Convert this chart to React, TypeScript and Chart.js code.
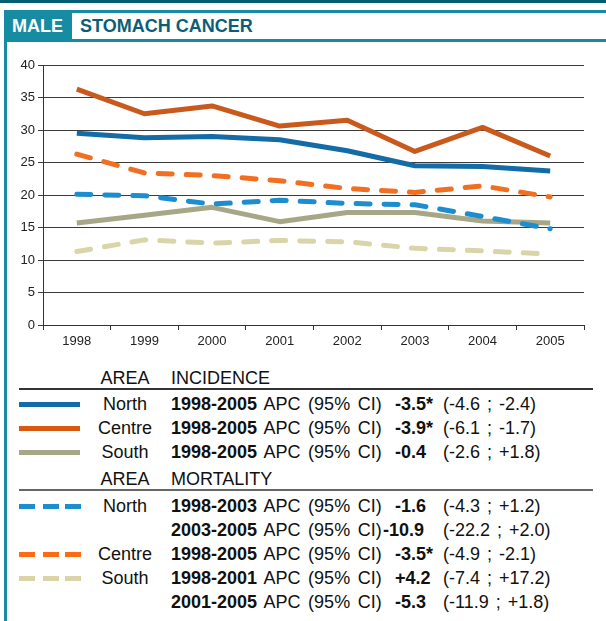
import React, { useEffect, useRef } from "react";
import { Chart, registerables } from "chart.js";

Chart.register(...registerables);

const years = ["1998", "1999", "2000", "2001", "2002", "2003", "2004", "2005"];
const northIncidence = [29.5, 28.8, 29.0, 28.5, 26.8, 24.5, 24.4, 23.7];
const centreIncidence = [36.3, 32.5, 33.7, 30.6, 31.5, 26.7, 30.4, 26.0];
const southIncidence = [15.7, 16.9, 18.1, 15.9, 17.3, 17.3, 16.0, 15.7];
const northMortality = [20.1, 19.9, 18.6, 19.2, 18.7, 18.5, 16.7, 14.8];
const centreMortality = [26.3, 23.4, 23.0, 22.2, 21.0, 20.4, 21.4, 19.7];
const southMortality = [11.3, 13.1, 12.6, 13.0, 12.8, 11.8, 11.4, 10.9];

const yMin = 0;
const yMax = 40;
const yStep = 5;

const COLORS = {
  northInc: "#136ca6",
  centreInc: "#c95a1d",
  southInc: "#a7a787",
  northMort: "#1c8dcf",
  centreMort: "#f26f22",
  southMort: "#d9d5a9",
};

const incidenceRows = [
  { area: "North", color: COLORS.northInc, period: "1998-2005", value: "-3.5*", ci: "(-4.6 ; -2.4)" },
  { area: "Centre", color: "#d85a12", period: "1998-2005", value: "-3.9*", ci: "(-6.1 ; -1.7)" },
  { area: "South", color: COLORS.southInc, period: "1998-2005", value: "-0.4", ci: "(-2.6 ; +1.8)" },
];

const mortalityRows = [
  { area: "North", color: COLORS.northMort, period: "1998-2003", value: "-1.6", ci: "(-4.3 ; +1.2)" },
  { area: "", color: "", period: "2003-2005", value: "-10.9", ci: "(-22.2 ; +2.0)" },
  { area: "Centre", color: "#ff6a14", period: "1998-2005", value: "-3.5*", ci: "(-4.9 ; -2.1)" },
  { area: "South", color: COLORS.southMort, period: "1998-2001", value: "+4.2", ci: "(-7.4 ; +17.2)" },
  { area: "", color: "", period: "2001-2005", value: "-5.3", ci: "(-11.9 ; +1.8)" },
];

const FONT = '"Liberation Sans", Arial, Helvetica, sans-serif';
const TEAL = "#168ca2";

function LegendRow({ row, top, dashed }: { row: any; top: number; dashed: boolean }) {
  const swatch = row.color ? (
    dashed ? (
      <div style={{ position: "absolute", left: 19, top: top + 10, width: 62, height: 5 }}>
        {[0, 24, 46].map((x) => (
          <div key={x} style={{ position: "absolute", left: x, top: 0, width: 16, height: 5, background: row.color }} />
        ))}
      </div>
    ) : (
      <div style={{ position: "absolute", left: 19, top: top + 10, width: 61, height: 5, background: row.color }} />
    )
  ) : null;
  const long = row.value.length > 4 && !row.value.endsWith("*");
  return (
    <>
      {swatch}
      <div style={{ position: "absolute", left: 85, top, width: 80, textAlign: "center" }}>{row.area}</div>
      <div style={{ position: "absolute", left: 171, top, whiteSpace: "nowrap", wordSpacing: "2.5px" }}>
        <b>{row.period}</b> APC (95% CI)
      </div>
      <div style={{ position: "absolute", left: long ? 383 : 395, top, fontWeight: "bold", whiteSpace: "nowrap" }}>
        {row.value}
      </div>
      <div style={{ position: "absolute", left: 443, top, whiteSpace: "nowrap", wordSpacing: "2px" }}>{row.ci}</div>
    </>
  );
}

export default function App() {
  const canvasRef = useRef<HTMLCanvasElement | null>(null);

  useEffect(() => {
    if (!canvasRef.current) return;
    const mk = (data: number[], color: string, dashed: boolean) => ({
      data,
      borderColor: color,
      backgroundColor: color,
      borderWidth: 5,
      borderDash: dashed ? [14, 14] : [],
      borderCapStyle: dashed ? ("round" as const) : ("butt" as const),
      borderJoinStyle: "round" as const,
      pointRadius: 0,
      tension: 0,
      fill: false,
    });
    const chart = new Chart(canvasRef.current, {
      type: "line",
      data: {
        labels: years,
        datasets: [
          mk(northMortality, COLORS.northMort, true),
          mk(centreMortality, COLORS.centreMort, true),
          mk(southMortality, COLORS.southMort, true),
          mk(northIncidence, COLORS.northInc, false),
          mk(centreIncidence, COLORS.centreInc, false),
          mk(southIncidence, COLORS.southInc, false),
        ],
      },
      options: {
        animation: false,
        responsive: true,
        maintainAspectRatio: false,
        layout: { padding: { top: 15, right: 12, bottom: 0, left: 0 } },
        plugins: { legend: { display: false }, tooltip: { enabled: false } },
        scales: {
          x: {
            offset: true,
            grid: {
              offset: true,
              drawOnChartArea: false,
              drawTicks: true,
              tickLength: 5,
              color: "#333",
            },
            border: { color: "#333", width: 1 },
            ticks: { color: "#222", font: { family: FONT, size: 13 }, padding: 4, maxRotation: 0 },
            afterFit: (s: any) => {
              s.height = 35;
            },
          },
          y: {
            min: yMin,
            max: yMax,
            grid: { color: "#3c3c3c", tickLength: 5, lineWidth: 1 },
            border: { color: "#333", width: 1 },
            ticks: { stepSize: yStep, color: "#222", font: { family: FONT, size: 13 }, padding: 3 },
            afterFit: (s: any) => {
              s.width = 43;
            },
          },
        },
      },
    });
    return () => chart.destroy();
  }, []);

  const incTop = [404, 428, 452];
  const mortTop = [506, 530, 554, 578, 602];

  return (
    <div
      style={{
        position: "absolute",
        left: 0,
        top: 0,
        width: 606,
        height: 621,
        background: "#fff",
        fontFamily: FONT,
        fontSize: 18,
        lineHeight: "24px",
        color: "#111",
        overflow: "hidden",
      }}
    >
      <div style={{ position: "absolute", left: 0, top: 0, width: 606, height: 3, background: "#005f74" }} />
      <div style={{ position: "absolute", left: 4, top: 10, width: 68, height: 32, background: TEAL }} />
      <div
        style={{
          position: "absolute",
          left: 12,
          top: 14,
          color: "#fff",
          fontWeight: "bold",
          fontSize: 18,
          lineHeight: "24px",
        }}
      >
        MALE
      </div>
      <div
        style={{
          position: "absolute",
          left: 72,
          top: 10,
          width: 534,
          height: 26,
          borderTop: `3px solid ${TEAL}`,
          borderBottom: `3px solid ${TEAL}`,
          background: "#fff",
        }}
      />
      <div
        style={{
          position: "absolute",
          left: 80,
          top: 14,
          color: "#0c5e77",
          fontWeight: "bold",
          fontSize: 18,
          lineHeight: "24px",
        }}
      >
        STOMACH CANCER
      </div>
      <div style={{ position: "absolute", left: 4, top: 42, width: 3, height: 579, background: TEAL }} />

      <div style={{ position: "absolute", left: 0, top: 50, width: 596, height: 310 }}>
        <canvas ref={canvasRef} />
      </div>

      <div style={{ position: "absolute", left: 85, top: 378 - 12, width: 80, textAlign: "center" }}>AREA</div>
      <div style={{ position: "absolute", left: 171, top: 378 - 12 }}>INCIDENCE</div>
      <div style={{ position: "absolute", left: 19, top: 388, width: 574, height: 1.5, background: "#333" }} />
      {incidenceRows.map((r, i) => (
        <LegendRow key={"i" + i} row={r} top={incTop[i] - 12} dashed={false} />
      ))}

      <div style={{ position: "absolute", left: 85, top: 479 - 12, width: 80, textAlign: "center" }}>AREA</div>
      <div style={{ position: "absolute", left: 171, top: 479 - 12 }}>MORTALITY</div>
      <div style={{ position: "absolute", left: 19, top: 489, width: 574, height: 2, background: "#666" }} />
      {mortalityRows.map((r, i) => (
        <LegendRow key={"m" + i} row={r} top={mortTop[i] - 12} dashed={true} />
      ))}
    </div>
  );
}
